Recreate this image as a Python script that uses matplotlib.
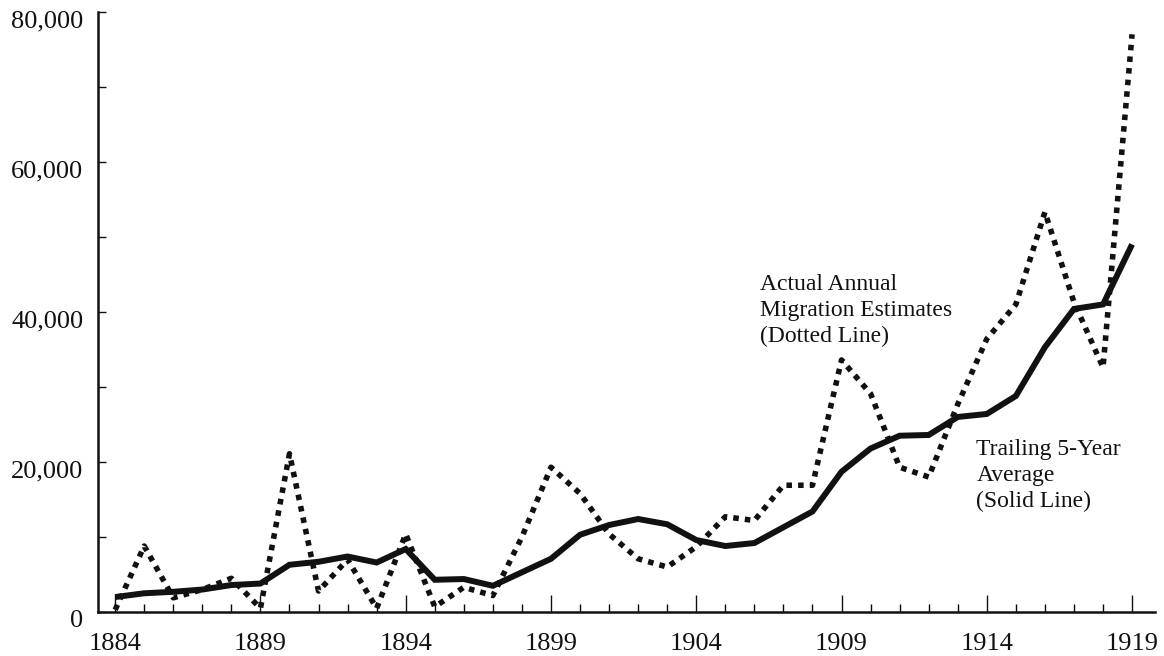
import matplotlib.pyplot as plt
import matplotlib.transforms as mtransforms
from matplotlib.ticker import MultipleLocator, FuncFormatter

# years and the two series
years = list(range(1884, 1920))

# actual annual migration estimates (dotted line)
annual = [300, 8800, 1900, 3000, 4500, 500, 21100, 2800, 7000, 500,
          10400, 700, 3300, 2200, 10000, 19300, 15800, 10400, 7100, 6000,
          8700, 12700, 12200, 16900, 16900, 33600, 29100, 19300, 18000, 27700,
          36400, 41000, 53300, 41300, 32600, 77000]

# trailing 5-year average (solid line)
trailing = [2000, 2500, 2700, 3000, 3600, 3800, 6300, 6700, 7400, 6600,
            8400, 4300, 4400, 3500, 5300, 7100, 10300, 11600, 12400, 11700,
            9600, 8800, 9200, 11300, 13400, 18700, 21800, 23500, 23600, 26000,
            26400, 28800, 35300, 40400, 41000, 49000]

plt.rcParams['font.family'] = ['Liberation Serif', 'DejaVu Serif']

fig = plt.figure(figsize=(11.64, 6.56), dpi=100)
ax = fig.add_axes([0.0842, 0.067, 0.9081, 0.915])

ax.plot(years, trailing, color='#111111', lw=4.3, solid_capstyle='butt',
        solid_joinstyle='miter')
ax.plot(years, annual, color='#111111', lw=4.0, linestyle=(0, (1, 1.1)),
        dash_capstyle='butt')

ax.set_xlim(1883.41, 1919.79)
ax.set_ylim(0, 80000)

for side in ['top', 'right']:
    ax.spines[side].set_visible(False)
for side in ['left', 'bottom']:
    ax.spines[side].set_linewidth(1.8)
    ax.spines[side].set_color('#111111')

ax.xaxis.set_minor_locator(MultipleLocator(1))
ax.yaxis.set_major_locator(MultipleLocator(20000))
ax.yaxis.set_minor_locator(MultipleLocator(10000))
ax.set_xticks(range(1884, 1920, 5))
ax.yaxis.set_major_formatter(FuncFormatter(lambda v, p: f'{int(v):,}'))

ax.tick_params(axis='x', which='major', direction='in', length=12, width=1,
               labelsize=19, pad=15, colors='#111111')
ax.tick_params(axis='x', which='minor', direction='in', length=6, width=1)
ax.tick_params(axis='y', which='both', direction='in', length=6, width=1,
               labelsize=19, pad=10.5, colors='#111111')

# y labels sit a little below their ticks in the original
shift = mtransforms.ScaledTranslation(0, -5 / 72, fig.dpi_scale_trans)
for lab in ax.get_yticklabels():
    lab.set_transform(lab.get_transform() + shift)

ax.text(1906.2, 45000, 'Actual Annual\nMigration Estimates\n(Dotted Line)',
        fontsize=17, va='top', ha='left', color='#111111', linespacing=1.3)
ax.text(1913.64, 23000, 'Trailing 5-Year\nAverage\n(Solid Line)',
        fontsize=17, va='top', ha='left', color='#111111', linespacing=1.3)

fig.savefig('out.png', dpi=100)
